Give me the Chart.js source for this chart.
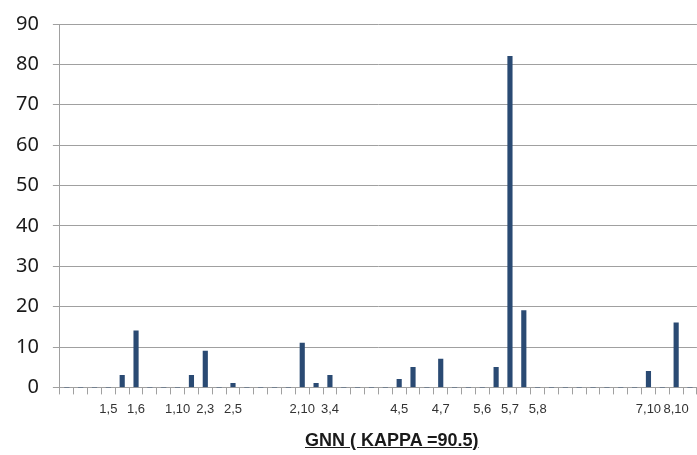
<!DOCTYPE html>
<html>
<head>
<meta charset="utf-8">
<title>GNN (KAPPA =90.5)</title>
<script src="https://cdn.jsdelivr.net/npm/chart.js@4.4.1/dist/chart.umd.min.js"></script>
<style>
  body { margin: 0; background: #fff; }
  #wrap { position: relative; width: 697px; height: 455px; }
  #gnnTitle {
    position: absolute;
    left: 305px;
    top: 430px;
    font-family: "Liberation Sans", Arial, sans-serif;
    font-weight: bold;
    font-size: 18px;
    line-height: 20px;
    color: #1a1a1a;
    text-decoration: underline;
    white-space: nowrap;
  }
</style>
</head>
<body>
<div id="wrap">
  <canvas id="gnnChart" width="697" height="455"></canvas>
  <div id="gnnTitle">GNN ( KAPPA =90.5)</div>
</div>

<script>
// x axis labels, only some categories carry text
const pairLabels = [
  "", "", "", "1,5", "", "1,6", "", "", "1,10", "",
  "2,3", "", "2,5", "", "", "", "", "2,10", "", "3,4",
  "", "", "", "", "4,5", "", "", "4,7", "", "",
  "5,6", "", "5,7", "", "5,8", "", "", "", "", "",
  "", "", "7,10", "", "8,10", ""
];

// bar heights
const gnnValues = [
  0, 0, 0, 0, 3, 14, 0, 0, 0, 3,
  9, 0, 1, 0, 0, 0, 0, 11, 1, 3,
  0, 0, 0, 0, 2, 5, 0, 7, 0, 0,
  0, 5, 82, 19, 0, 0, 0, 0, 0, 0,
  0, 0, 4, 0, 16, 0
];

const yMin = 0;
const yMax = 90;
const yStep = 10;

const gridGrey = "#a0a0a0";

let gnnChart;

window.addEventListener("load", () => {
  const ctx = document.getElementById("gnnChart").getContext("2d");
  gnnChart = new Chart(ctx, {
    type: "bar",
    data: {
      labels: pairLabels,
      datasets: [{
        label: "GNN",
        data: gnnValues,
        backgroundColor: "#2a4a73",
        borderWidth: 0,
        barThickness: 4.5
      }]
    },
    options: {
      responsive: false,
      animation: false,
      layout: {
        padding: { left: 2, right: 0, top: 13, bottom: 31 }
      },
      plugins: {
        legend: { display: false },
        tooltip: { enabled: false }
      },
      scales: {
        x: {
          offset: true,
          grid: {
            offset: true,
            drawOnChartArea: false,
            color: gridGrey,
            tickLength: 7
          },
          border: { color: gridGrey },
          ticks: {
            autoSkip: false,
            maxRotation: 0,
            padding: 7,
            color: "#333",
            font: { family: "'Liberation Sans', Arial, sans-serif", size: 13 }
          }
        },
        y: {
          min: yMin,
          max: yMax,
          grid: {
            color: gridGrey,
            tickLength: 7
          },
          border: { color: gridGrey },
          ticks: {
            stepSize: yStep,
            padding: 14,
            color: "#1a1a1a",
            font: { family: "'Noto Sans', sans-serif", size: 20, lineHeight: 1 }
          }
        }
      }
    }
  });
});
</script>
</body>
</html>
